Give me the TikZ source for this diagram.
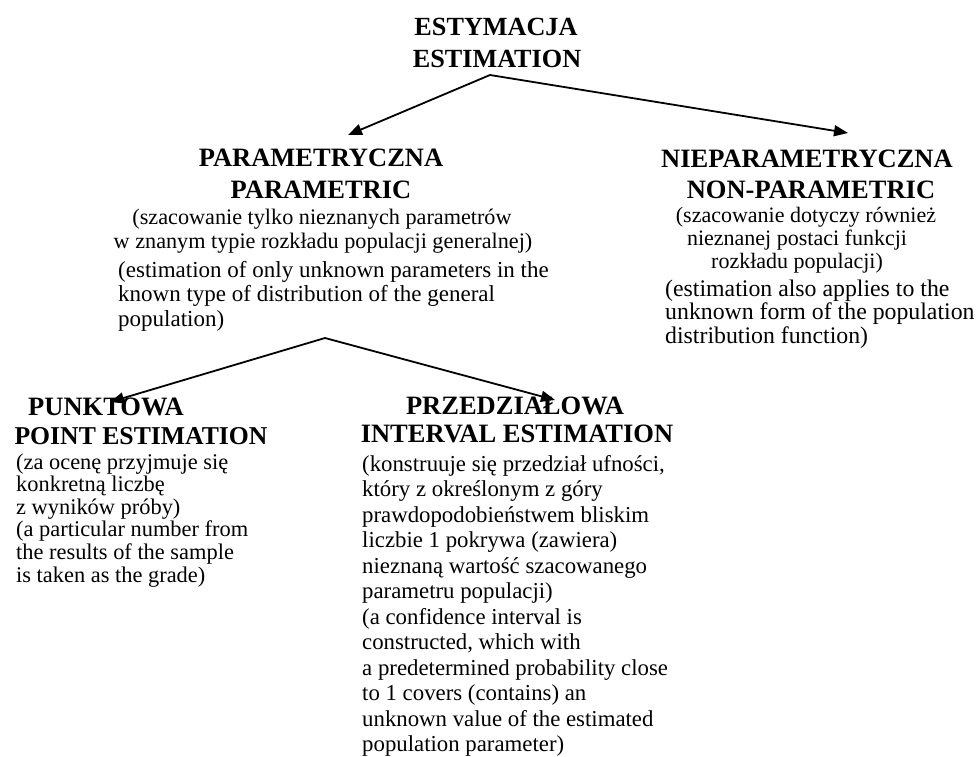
\documentclass[tikz,border=0pt]{standalone}
\usepackage{fontspec}
\setmainfont{Liberation Serif}
\usetikzlibrary{arrows.meta}
\begin{document}
\begin{tikzpicture}[x=1pt,y=-1pt,
  head/.style={font=\fontsize{26.5}{28}\selectfont\bfseries, inner sep=0pt, anchor=base},
  body/.style={font=\fontsize{22}{23.5}\selectfont, inner sep=0pt},
  bodyc/.style={body, anchor=base},
  bodyl/.style={body, anchor=base west},
  conn/.style={line width=1.8pt, -{Triangle[length=14pt,width=11pt]}}]
\useasboundingbox (0,0) rectangle (977,756);

% top
\node[head, font=\fontsize{26.2}{28}\selectfont\bfseries] (h1) at (496,35) {ESTYMACJA};
\node[head, font=\fontsize{26.2}{28}\selectfont\bfseries] (h2) at (497,67) {ESTIMATION};

% parametric
\node[head] (p1) at (321,166) {PARAMETRYCZNA};
\node[head] (p2) at (321,198) {PARAMETRIC};
\node[bodyc, font=\fontsize{22.2}{23.5}\selectfont] (pp1) at (322,224) {(szacowanie tylko nieznanych parametrów};
\node[bodyc, font=\fontsize{22.2}{23.5}\selectfont] (pp2) at (323,248) {w znanym typie rozkładu populacji generalnej)};
\foreach \t [count=\i] in {{(estimation of only unknown parameters in the},{known type of distribution of the general},{population)}}
  \node[bodyl, font=\fontsize{23}{24}\selectfont] (pe\i) at (118,{277+24.5*(\i-1)}) {\t};

% non-parametric
\node[head] (n1) at (807,167) {NIEPARAMETRYCZNA};
\node[head] (n2) at (811,198) {NON-PARAMETRIC};
\node[bodyc] (np1) at (806,222) {(szacowanie dotyczy również};
\node[bodyc] (np2) at (797,245) {nieznanej postaci funkcji};
\node[bodyc] (np3) at (797,268) {rozkładu populacji)};
\foreach \t [count=\i] in {{(estimation also applies to the},{unknown form of the population},{distribution function)}}
  \node[bodyl, font=\fontsize{23.8}{25}\selectfont] (ne\i) at (665,{296+23.5*(\i-1)}) {\t};

% point
\node[head] (k1) at (106,415) {PUNKTOWA};
\node[head, font=\fontsize{25.7}{28}\selectfont\bfseries] (k2) at (141,444) {POINT ESTIMATION};
\foreach \t [count=\i] in {{(za ocenę przyjmuje się},{konkretną liczbę},{z wyników próby)},{(a particular number from},{the results of the sample},{is taken as the grade)}}
  \node[bodyl, font=\fontsize{22.4}{23.5}\selectfont] (ke\i) at (16,{469+22.6*(\i-1)}) {\t};

% interval
\node[head] (i1) at (515,414) {PRZEDZIAŁOWA};
\node[head] (i2) at (517,442) {INTERVAL ESTIMATION};
\foreach \t [count=\i] in {{(konstruuje się przedział ufności,},{który z określonym z góry},{prawdopodobieństwem bliskim},{liczbie 1 pokrywa (zawiera)},{nieznaną wartość szacowanego},{parametru populacji)},{(a confidence interval is},{constructed, which with},{a predetermined probability close},{to 1 covers (contains) an},{unknown value of the estimated},{population parameter)}}
  \node[bodyl, font=\fontsize{22.8}{24}\selectfont] (ie\i) at (362,{471+25.5*(\i-1)}) {\t};

% connectors
\coordinate (a1) at (490,75);
\coordinate (t1) at (348,135);
\coordinate (t2) at (848,133);
\coordinate (a2) at (325,338);
\coordinate (t3) at (110,402);
\coordinate (t4) at (555,400);
\draw[conn] (a1) -- (t1);
\draw[conn] (a1) -- (t2);
\draw[conn] (a2) -- (t3);
\draw[conn] (a2) -- (t4);
\end{tikzpicture}
\end{document}
